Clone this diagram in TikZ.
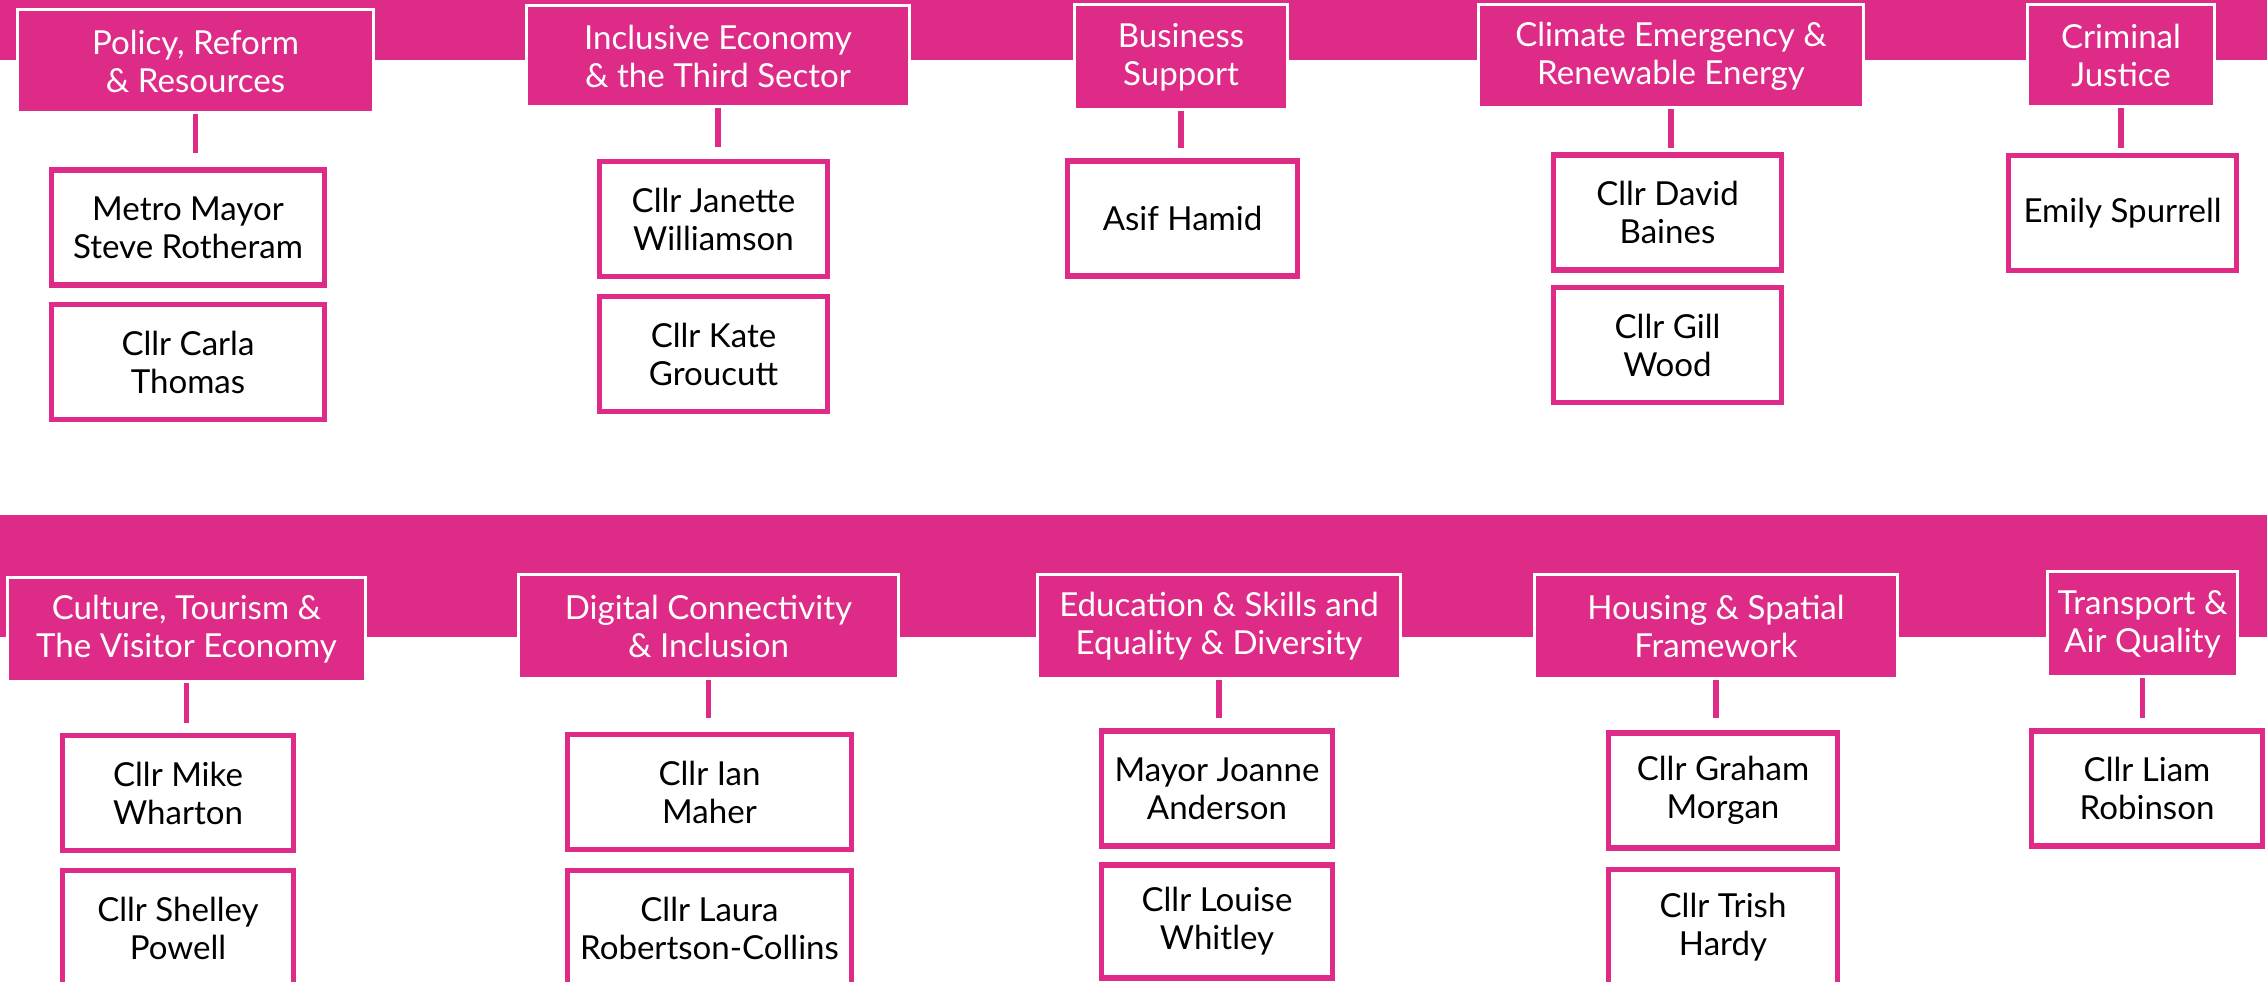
\documentclass[tikz,border=0pt]{standalone}
\usepackage{fontspec}
\setmainfont{Lato}
\definecolor{lcrpink}{RGB}{222,43,135}
\tikzset{
  head/.style={fill=lcrpink, draw=white, line width=0.9pt, text=white, align=center,
    inner sep=0pt, font=\fontsize{9.4}{10.8}\selectfont},
  member/.style={fill=white, draw=lcrpink, line width=1.5pt, align=center, inner sep=0pt,
    minimum width=2.30cm, minimum height=1.15cm, font=\fontsize{9.4}{10.8}\selectfont},
  link/.style={draw=lcrpink, line width=1.5pt, shorten >=0.10cm}
}

\begin{document}
\begin{tikzpicture}[x=0.01cm, y=-0.01cm]
        \clip (0,0) rectangle (2267,982);
        \fill[lcrpink] (0,0) rectangle (2267,60);
        \fill[lcrpink] (0,515) rectangle (2267,637);

        \node[head, minimum width=3.56cm, minimum height=1.03cm] (pol) at (195.5,61) {Policy, Reform\\\& Resources};
        \node[head, minimum width=3.83cm, minimum height=1.01cm] (inc) at (718,56) {Inclusive Economy\\\& the Third Sector};
        \node[head, minimum width=2.13cm, minimum height=1.05cm] (bus) at (1181,57) {Business\\Support};
        \node[head, minimum width=3.85cm, minimum height=1.03cm] (cli) at (1671,56) {Climate Emergency \&\\Renewable Energy};
        \node[head, minimum width=1.87cm, minimum height=1.02cm] (cri) at (2121,55.5) {Criminal\\Justice};

        \node[head, minimum width=3.58cm, minimum height=1.04cm] (cul) at (186.5,629.5) {Culture, Tourism \&\\The Visitor Economy};
        \node[head, minimum width=3.80cm, minimum height=1.04cm] (dig) at (708.5,626.5) {Digital Connectivity\\\& Inclusion};
        \node[head, minimum width=3.63cm, minimum height=1.04cm] (edu) at (1219,626.5) {Education \& Skills and\\Equality \& Diversity};
        \node[head, minimum width=3.63cm, minimum height=1.04cm] (hou) at (1716,626.5) {Housing \& Spatial\\Framework};
        \node[head, minimum width=1.90cm, minimum height=1.05cm] (tra) at (2142.5,624) {Transport \&\\Air Quality};

        \node[member, minimum width=2.73cm] (rotheram) at (188,227.5) {Metro Mayor\\Steve Rotheram};
        \node[member, minimum width=2.73cm] (thomas) at (188,362) {Cllr Carla\\Thomas};
        \node[member, minimum width=2.28cm] (williamson) at (713.5,219) {Cllr Janette\\Williamson};
        \node[member, minimum width=2.28cm] (groucutt) at (713.5,354) {Cllr Kate\\Groucutt};
        \node[member] (hamid) at (1182.5,218.5) {Asif Hamid};
        \node[member, minimum width=2.28cm] (baines) at (1667.5,212.5) {Cllr David\\Baines};
        \node[member, minimum width=2.28cm] (wood) at (1667.5,345) {Cllr Gill\\Wood};
        \node[member, minimum width=2.28cm] (spurrell) at (2122.5,213) {Emily Spurrell};

        \node[member, minimum width=2.31cm] (wharton) at (178,793) {Cllr Mike\\Wharton};
        \node[member, minimum width=2.31cm] (powell) at (178,928) {Cllr Shelley\\Powell};
        \node[member, minimum width=2.84cm] (maher) at (709.5,792) {Cllr Ian\\Maher};
        \node[member, minimum width=2.84cm] (collins) at (709.5,928) {Cllr Laura\\Robertson-Collins};
        \node[member, minimum width=2.31cm] (anderson) at (1217,788.5) {Mayor Joanne\\Anderson};
        \node[member, minimum width=2.31cm, minimum height=1.13cm] (whitley) at (1217,921.5) {Cllr Louise\\Whitley};
        \node[member, minimum width=2.29cm] (morgan) at (1723,790.5) {Cllr Graham\\Morgan};
        \node[member, minimum width=2.29cm] (hardy) at (1723,927) {Cllr Trish\\Hardy};
        \node[member, minimum width=2.31cm] (robinson) at (2147,788.5) {Cllr Liam\\Robinson};

        \draw[link, shorten >=0.14cm] (pol.south) -- (pol.south |- rotheram.north);
        \draw[link, shorten >=0.12cm] (inc.south) -- (inc.south |- williamson.north);
        \draw[link] (bus.south) -- (bus.south |- hamid.north);
        \draw[link, shorten >=0.04cm] (cli.south) -- (cli.south |- baines.north);
        \draw[link, shorten >=0.05cm] (cri.south) -- (cri.south |- spurrell.north);
        \draw[link] (cul.south) -- (cul.south |- wharton.north);
        \draw[link, shorten >=0.14cm] (dig.south) -- (dig.south |- maher.north);
        \draw[link] (edu.south) -- (edu.south |- anderson.north);
        \draw[link, shorten >=0.12cm] (hou.south) -- (hou.south |- morgan.north);
        \draw[link] (tra.south) -- (tra.south |- robinson.north);

    \end{tikzpicture}
\end{document}
